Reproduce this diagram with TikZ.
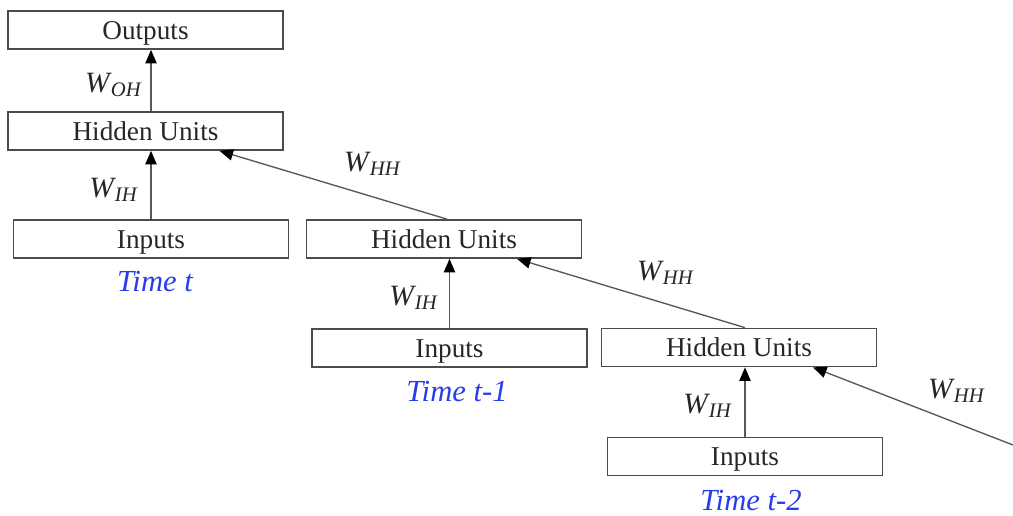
\documentclass[tikz,border=0pt]{standalone}
\usepackage{fontspec}
\setmainfont{Liberation Serif}
\usepackage{xcolor}
\usetikzlibrary{arrows.meta, calc}

\definecolor{timeblue}{RGB}{40,60,235}
\newcommand{\wt}[1]{\textit{W}\textsubscript{\kern-0.5pt\textit{#1}}}

\tikzset{
    unit/.style={draw=black!70, line width=0.7pt, minimum width=121.3pt, minimum height=16.8pt,
        inner sep=0pt, text height=8pt, text depth=0pt, text=black!85, font=\fontsize{12}{14}\selectfont},
    link/.style={draw=black!65, line width=0.6pt, -{Triangle[length=6pt, width=5pt, color=black]}},
    weight/.style={text=black!85, font=\fontsize{13}{15}\selectfont},
    time/.style={text=timeblue, font=\fontsize{13.5}{16}\selectfont\itshape}
}

\begin{document}
\begin{tikzpicture}[x=0.441pt, y=-0.441pt]
        \useasboundingbox (0, 0) rectangle (1013, 516);

        \node[unit] (out) at (145.5, 30) {Outputs};
        \node[unit] (h0) at (145.5, 131) {Hidden Units};
        \node[unit] (in0) at (151, 239) {Inputs};
        \node[time] (t0) at (155, 282) {Time t};

        \node[unit] (h1) at (444, 239) {Hidden Units};
        \node[unit] (in1) at (449.5, 348) {Inputs};
        \node[time] (t1) at (457, 392) {Time t-1};

        \node[unit] (h2) at (739, 347.5) {Hidden Units};
        \node[unit] (in2) at (745, 456.5) {Inputs};
        \node[time] (t2) at (751, 501) {Time t-2};

        \coordinate (h3) at (1013, 445);

        \draw[link] (in0.north) to (in0.north |- h0.south);
        \draw[link] (in0.north |- h0.north) to (in0.north |- out.south);
        \draw[link] (in1.north) to (in1.north |- h1.south);
        \draw[link] (in2.north) to (in2.north |- h2.south);

        \draw[link] ($(h1.north)+(3, 0)$) to ($(h0.south)+(74, 0)$);
        \draw[link] ($(h2.north)+(6, 0)$) to ($(h1.south)+(73, 0)$);
        \draw[link] (h3) to ($(h2.south)+(74, 0)$);

        \node[weight] (woh) at (114, 85) {\wt{OH}};
        \node[weight] (wih0) at (114, 190) {\wt{IH}};
        \node[weight] (whh0) at (373, 164) {\wt{HH}};
        \node[weight] (wih1) at (414, 298) {\wt{IH}};
        \node[weight] (whh1) at (666, 273) {\wt{HH}};
        \node[weight] (wih2) at (708, 406) {\wt{IH}};
        \node[weight] (whh2) at (957, 391) {\wt{HH}};
    \end{tikzpicture}
\end{document}
